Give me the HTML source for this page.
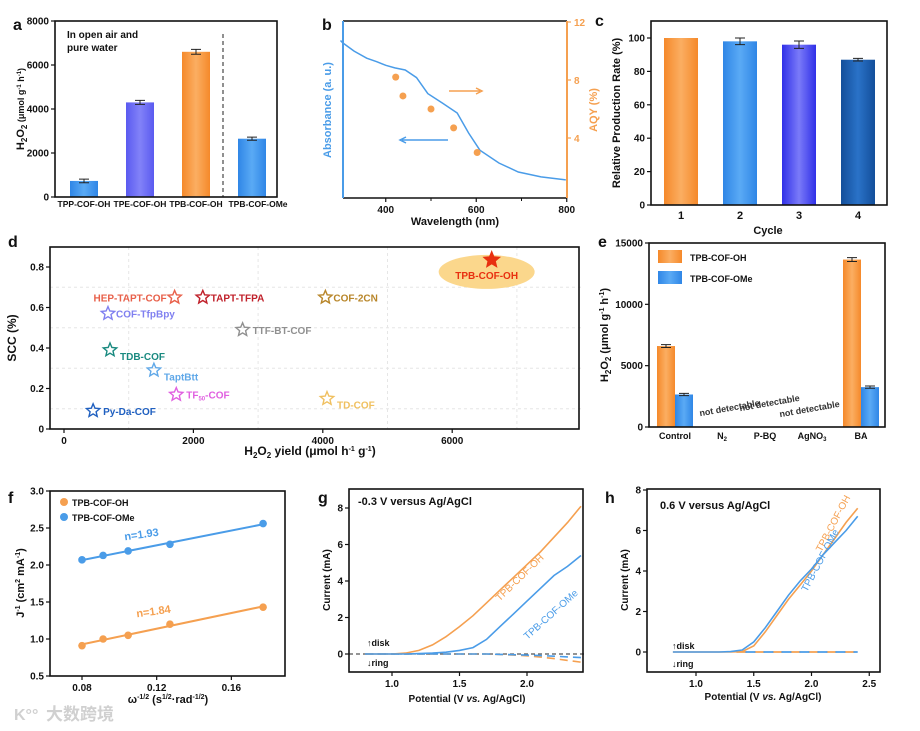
<!DOCTYPE html>
<html><head><meta charset="utf-8"><style>
html,body{margin:0;padding:0;background:#fff}
svg{display:block;font-family:"Liberation Sans","Noto Sans CJK SC",sans-serif;font-weight:bold}
</style></head><body>
<svg id="fig" width="920" height="731" viewBox="0 0 920 731" xmlns="http://www.w3.org/2000/svg">
<defs>
<linearGradient id="gBlue" x1="0" x2="1"><stop offset="0" stop-color="#2f86e6"/><stop offset="0.5" stop-color="#5aaaf5"/><stop offset="1" stop-color="#2f86e6"/></linearGradient>
<linearGradient id="gPurp" x1="0" x2="1"><stop offset="0" stop-color="#5a5af0"/><stop offset="0.5" stop-color="#8282f8"/><stop offset="1" stop-color="#5a5af0"/></linearGradient>
<linearGradient id="gOr" x1="0" x2="1"><stop offset="0" stop-color="#f5892a"/><stop offset="0.5" stop-color="#fbae62"/><stop offset="1" stop-color="#f5892a"/></linearGradient>
<linearGradient id="gPurp2" x1="0" x2="1"><stop offset="0" stop-color="#3030e8"/><stop offset="0.5" stop-color="#7a7af8"/><stop offset="1" stop-color="#3030e8"/></linearGradient>
<linearGradient id="gNavy" x1="0" x2="1"><stop offset="0" stop-color="#134f9a"/><stop offset="0.5" stop-color="#2a72c8"/><stop offset="1" stop-color="#134f9a"/></linearGradient>
</defs>
</svg>
<script>
// ---------- data ----------
const aCats=['TPP-COF-OH','TPE-COF-OH','TPB-COF-OH','TPB-COF-OMe'];
const aVals=[730,4300,6600,2650];
const aErrs=[80,90,110,70];
const aTicks=[0,2000,4000,6000,8000];
const bAbsW=[300,305,330,358,380,400,420,443,468,493,525,558,583,608,650,693,743,798];
const bAbsV=[0.89,0.876,0.83,0.79,0.77,0.75,0.735,0.723,0.68,0.59,0.537,0.48,0.367,0.27,0.198,0.147,0.119,0.102];
const bAqyW=[422,438,500,550,602];
const bAqyV=[8.2,6.9,6.0,4.7,3.0];
const bXTicks=[400,600,800];
const bYTicks=[4,8,12];
const cCats=['1','2','3','4'];
const cVals=[100,98,96,87];
const cErrs=[0,2,2.2,0.8];
const cTicks=[0,20,40,60,80,100];
const dNames=['TPB-COF-OH','HEP-TAPT-COF','TAPT-TFPA','COF-2CN','COF-TfpBpy','TTF-BT-COF','TDB-COF','TaptBtt','TF50-COF','TD-COF','Py-Da-COF'];
const dX=[6610,1710,2145,4040,680,2760,711,1390,1735,4065,450];
const dY=[0.835,0.65,0.65,0.65,0.57,0.49,0.39,0.29,0.17,0.15,0.09];
const dXTicks=[0,2000,4000,6000];
const dYTicks=[0,0.2,0.4,0.6,0.8];
const eCats=['Control','N2','P-BQ','AgNO3','BA'];
const eOH=[6600,0,0,0,13650];
const eOMe=[2650,0,0,0,3250];
const eErrOH=[120,0,0,0,160];
const eErrOMe=[90,0,0,0,90];
const eTicks=[0,5000,10000,15000];
const fX=[0.08,0.0913,0.1047,0.1271,0.177];
const fOH=[0.91,1.0,1.05,1.2,1.43];
const fOMe=[2.07,2.13,2.19,2.28,2.56];
const fXTicks=[0.08,0.12,0.16];
const fYTicks=[0.5,1.0,1.5,2.0,2.5,3.0];
const gV=[0.8,1.0,1.1,1.2,1.3,1.4,1.5,1.6,1.7,1.8,1.9,2.0,2.1,2.2,2.3,2.4];
const gOH=[0,0,0.05,0.2,0.5,0.95,1.5,2.1,2.8,3.5,4.2,4.9,5.6,6.4,7.2,8.1];
const gOMe=[0,0,0,0.02,0.05,0.1,0.2,0.35,0.8,1.5,2.2,2.9,3.6,4.3,4.8,5.4];
const gRingOH=[0,0,0,0,0,0,0,0,0,-0.03,-0.06,-0.1,-0.17,-0.25,-0.35,-0.45];
const gRingOMe=[0,0,0,0,0,0,0,0,0,-0.02,-0.04,-0.06,-0.09,-0.12,-0.16,-0.2];
const gXTicks=[1.0,1.5,2.0];
const gYTicks=[0,2,4,6,8];
const hV=[0.8,1.0,1.2,1.3,1.4,1.5,1.6,1.7,1.8,1.9,2.0,2.1,2.2,2.3,2.4];
const hOH=[0,0,0,0,0.02,0.3,1.0,1.8,2.6,3.3,4.0,4.8,5.6,6.4,7.1];
const hOMe=[0,0,0,0.02,0.1,0.5,1.2,2.0,2.8,3.5,4.1,4.8,5.4,6.0,6.7];
const hXTicks=[1.0,1.5,2.0,2.5];
const hYTicks=[0,2,4,6,8];

const NS='http://www.w3.org/2000/svg';
const svg=document.getElementById('fig');
function mk(tag,attrs,parent){const e=document.createElementNS(NS,tag);for(const k in attrs)e.setAttribute(k,attrs[k]);(parent||svg).appendChild(e);return e;}
function txt(x,y,s,size,anchor,fill,parent){const t=mk('text',{x:x,y:y,'font-size':size,'text-anchor':anchor||'middle',fill:fill||'#111'},parent);t.textContent=s;return t;}
function frame(x1,y1,x2,y2,name){const r=mk('rect',{x:x1,y:y1,width:x2-x1,height:y2-y1,fill:'none',stroke:'#111','stroke-width':1.6});

return r;}
function yTicks(vals,fy,x,name,fmt,color){vals.forEach(v=>{const y=fy(v);mk('line',{x1:x-4,y1:y,x2:x,y2:y,stroke:color||'#111','stroke-width':1.2});const t=txt(x-6,y+3.5,fmt?fmt(v):String(v),10,'end',color);

});}
function xTicks(vals,fx,y,name,fmt,color){vals.forEach(v=>{const x=fx(v);mk('line',{x1:x,y1:y,x2:x,y2:y+4,stroke:color||'#111','stroke-width':1.2});const t=txt(x,y+15,fmt?fmt(v):String(v),10,'middle',color);

});}
function label(x,y,s,name){const t=txt(x,y,s,16,'start');

}
function vtitle(x,y,s,size,name,color){const t=mk('text',{x:0,y:0,'font-size':size,'text-anchor':'middle',fill:color||'#111',transform:`translate(${x},${y}) rotate(-90)`});t.innerHTML=s;

return t;}
function htitle(x,y,s,size,name){const t=mk('text',{x:x,y:y,'font-size':size,'text-anchor':'middle',fill:'#111'});t.innerHTML=s;

return t;}
function pathOf(xs,ys,fx,fy){return xs.map((v,i)=>(i?'L':'M')+fx(v).toFixed(1)+','+fy(ys[i]).toFixed(1)).join('');}

// ---------- panel a ----------
label(13,30,'a','panel-a-label');
const aY=v=>197-v*176/8000, aX=i=>84+i*56;
yTicks(aTicks,aY,55,'a-y-tick');
const aFills=['url(#gBlue)','url(#gPurp)','url(#gOr)','url(#gBlue)'];
aVals.forEach((v,i)=>{const r=mk('rect',{x:aX(i)-14,y:aY(v),width:28,height:aY(0)-aY(v),fill:aFills[i]});


const e1=aY(v+aErrs[i]),e2=aY(v-aErrs[i]);mk('path',{d:`M${aX(i)-5},${e1}H${aX(i)+5}M${aX(i)},${e1}V${e2}M${aX(i)-5},${e2}H${aX(i)+5}`,stroke:'#222','stroke-width':1,fill:'none'});
const t=txt(aX(i)+(i==3?6:0),207,aCats[i],8.5);

});
mk('line',{x1:223,y1:34,x2:223,y2:197,stroke:'#222','stroke-dasharray':'4,3'});
frame(55,21,277,197,'a-plot-frame');
txt(67,38,'In open air and',10,'start');txt(67,51,'pure water',10,'start');
vtitle(24,109,'H<tspan font-size="8" dy="3">2</tspan><tspan dy="-3">O</tspan><tspan font-size="8" dy="3">2</tspan><tspan dy="-3" font-size="9"> (μmol g</tspan><tspan font-size="6" dy="-3">-1</tspan><tspan dy="3" font-size="9"> h</tspan><tspan font-size="6" dy="-3">-1</tspan><tspan dy="3" font-size="9">)</tspan>',11,'a-y-title');

// ---------- panel b ----------
label(322,30,'b','panel-b-label');
const bX=w=>340.5+(w-300)*0.4525, bYa=v=>198-v*177, bYq=v=>196-v*14.5;
xTicks(bXTicks,bX,198,'b-x-tick');
[500,700].forEach(w=>mk('line',{x1:bX(w),y1:198,x2:bX(w),y2:201,stroke:'#111'}));
const bl=mk('path',{d:pathOf(bAbsW,bAbsV,bX,bYa),fill:'none',stroke:'#4a9ce8','stroke-width':1.5});


bAqyW.forEach((w,i)=>{const c=mk('circle',{cx:bX(w),cy:bYq(bAqyV[i]),r:3.5,fill:'#f5a050'});

});
mk('line',{x1:343,y1:198,x2:567,y2:198,stroke:'#111','stroke-width':1.6});
mk('line',{x1:343,y1:21,x2:567,y2:21,stroke:'#111','stroke-width':1.6});
mk('line',{x1:343,y1:21,x2:343,y2:198,stroke:'#4a9ce8','stroke-width':2});
mk('line',{x1:567,y1:21,x2:567,y2:198,stroke:'#f5a050','stroke-width':2});
bYTicks.forEach(v=>{const y=bYq(v);mk('line',{x1:567,y1:y,x2:571,y2:y,stroke:'#f5a050','stroke-width':1.2});const t=txt(574,y+4,String(v),10,'start','#f5a050');

});
mk('path',{d:'M449,91H480M476,88L482,91L476,94',stroke:'#f5a050','stroke-width':1.5,fill:'none'});
mk('path',{d:'M448,140H402M406,137L400,140L406,143',stroke:'#4a9ce8','stroke-width':1.5,fill:'none'});
vtitle(331,110,'Absorbance (a. u.)',11,'b-y-title','#4a9ce8');
vtitle(597,110,'AQY (%)',11,'b-aqy-title','#f5a050');
htitle(455,225,'Wavelength (nm)',11,'b-x-title');

// ---------- panel c ----------
label(595,26,'c','panel-c-label');
const cY=v=>205-v*1.67, cX=i=>681+i*59;
yTicks(cTicks,cY,651,'c-y-tick');
const cFills=['url(#gOr)','url(#gBlue)','url(#gPurp2)','url(#gNavy)'];
cVals.forEach((v,i)=>{const r=mk('rect',{x:cX(i)-17,y:cY(v),width:34,height:cY(0)-cY(v),fill:cFills[i]});


if(cErrs[i]){const e1=cY(v+cErrs[i]),e2=cY(v-cErrs[i]);mk('path',{d:`M${cX(i)-5},${e1}H${cX(i)+5}M${cX(i)},${e1}V${e2}M${cX(i)-5},${e2}H${cX(i)+5}`,stroke:'#222','stroke-width':1,fill:'none'});}
const t=txt(cX(i),219,cCats[i],11);

});
frame(651,21,887,205,'c-plot-frame');
vtitle(620,113,'Relative Production Rate (%)',11,'c-y-title');
htitle(768,234,'Cycle',11,'c-x-title');

// ---------- panel d ----------
label(8,247,'d','panel-d-label');
const dXf=v=>64+v*0.0647, dYf=v=>429-v*202.5;
[1000,3000,5000,7000].forEach(v=>mk('line',{x1:dXf(v),y1:247,x2:dXf(v),y2:429,stroke:'#e6e6e6','stroke-dasharray':'3,3'}));
[0.1,0.3,0.5,0.7].forEach(v=>mk('line',{x1:50,y1:dYf(v),x2:581,y2:dYf(v),stroke:'#e6e6e6','stroke-dasharray':'3,3'}));
yTicks(dYTicks,dYf,50,'d-y-tick',v=>v===0?'0':v.toFixed(1));
xTicks(dXTicks,dXf,429,'d-x-tick');
mk('ellipse',{cx:dXf(6610)-5,cy:dYf(0.835)+12,rx:48,ry:17,fill:'#fbd78c'});
const dColors=['#e83010','#e8604a','#c0202a','#b8862a','#8080f0','#909090','#1a8a80','#60a8e8','#e060e0','#f0c060','#2060c0'];
const dLx=[0,-8,8,8,8,10,10,10,10,10,10], dLy=[12,4,4,4,4,4,10,10,4,10,4];
function star(cx,cy,r){let p='';for(let k=0;k<10;k++){const a=-Math.PI/2+k*Math.PI/5,rr=k%2?r*0.45:r;p+=(k?'L':'M')+(cx+rr*Math.cos(a)).toFixed(1)+','+(cy+rr*Math.sin(a)).toFixed(1);}return p+'Z';}
dNames.forEach((n,i)=>{const cx=dXf(dX[i]),cy=dYf(dY[i]);
const s=mk('path',{d:star(cx,cy,i?7:8),fill:i?'none':dColors[i],stroke:dColors[i],'stroke-width':1.4});


let t;
if(i===0){t=txt(cx-5,cy+19,n,10,'middle',dColors[i]);}
else if(i===1){t=txt(cx+dLx[i],cy+dLy[i],n,10,'end',dColors[i]);}
else if(n==='TF50-COF'){t=mk('text',{x:cx+dLx[i],y:cy+dLy[i],'font-size':10,fill:dColors[i]});t.innerHTML='TF<tspan font-size="6" dy="2">50</tspan><tspan dy="-2">-COF</tspan>';}
else{t=txt(cx+dLx[i],cy+dLy[i],n,10,'start',dColors[i]);}

});
frame(50,247,579,429,'d-plot-frame');
vtitle(16,338,'SCC (%)',12,'d-y-title');
htitle(310,455,'H<tspan font-size="8" dy="3">2</tspan><tspan dy="-3">O</tspan><tspan font-size="8" dy="3">2</tspan><tspan dy="-3"> yield (μmol h</tspan><tspan font-size="7" dy="-4">-1</tspan><tspan dy="4"> g</tspan><tspan font-size="7" dy="-4">-1</tspan><tspan dy="4">)</tspan>',12,'d-x-title');

// ---------- panel e ----------
label(598,247,'e','panel-e-label');
const eY=v=>427-v*184/15000, eX=i=>[675,722,765,812,861][i];
yTicks(eTicks,eY,649,'e-y-tick');
eCats.forEach((c,i)=>{[[eOH,eErrOH,'url(#gOr)',-9,'oh'],[eOMe,eErrOMe,'url(#gBlue)',9,'ome']].forEach(([vals,errs,fill,off,sn])=>{const v=vals[i];if(!v)return;const cx=eX(i)+off;
const r=mk('rect',{x:cx-9,y:eY(v),width:18,height:eY(0)-eY(v),fill:fill});


const e1=eY(v+errs[i]),e2=eY(v-errs[i]);mk('path',{d:`M${cx-5},${e1}H${cx+5}M${cx},${e1}V${e2}M${cx-5},${e2}H${cx+5}`,stroke:'#222','stroke-width':1,fill:'none'});});});
const eLab=['Control','N<tspan font-size="6" dy="2">2</tspan>','P-BQ','AgNO<tspan font-size="6" dy="2">3</tspan>','BA'];
eLab.forEach((s,i)=>{const t=htitle(eX(i),439,s,9,'e-x-label');t.setAttribute('font-size','9');});
[[730,411],[770,406],[810,412]].forEach(([x,y])=>{const t=mk('text',{x:0,y:0,'font-size':9,'text-anchor':'middle',fill:'#333',transform:`translate(${x},${y}) rotate(-10)`});t.textContent='not detectable';

});
mk('rect',{x:658,y:250,width:24,height:13,fill:'url(#gOr)'});txt(690,261,'TPB-COF-OH',9,'start');
mk('rect',{x:658,y:271,width:24,height:13,fill:'url(#gBlue)'});txt(690,282,'TPB-COF-OMe',9,'start');
frame(649,243,885,427,'e-plot-frame');
vtitle(608,335,'H<tspan font-size="8" dy="3">2</tspan><tspan dy="-3">O</tspan><tspan font-size="8" dy="3">2</tspan><tspan dy="-3"> (μmol g</tspan><tspan font-size="7" dy="-4">-1</tspan><tspan dy="4"> h</tspan><tspan font-size="7" dy="-4">-1</tspan><tspan dy="4">)</tspan>',11,'e-y-title');

// ---------- panel f ----------
label(8,503,'f','panel-f-label');
const fXf=v=>82+(v-0.08)*1867, fYf=v=>676-(v-0.5)*74;
yTicks(fYTicks,fYf,50,'f-y-tick',v=>v.toFixed(1));
xTicks(fXTicks,fXf,676,'f-x-tick',v=>v.toFixed(2));
function fit(xs,ys){const n=xs.length,mx=xs.reduce((a,b)=>a+b)/n,my=ys.reduce((a,b)=>a+b)/n;let sxy=0,sxx=0;xs.forEach((x,i)=>{sxy+=(x-mx)*(ys[i]-my);sxx+=(x-mx)*(x-mx);});const k=sxy/sxx;return x=>my+k*(x-mx);}
[[fOH,'#f5a050','oh'],[fOMe,'#4a9ce8','ome']].forEach(([ys,col,sn])=>{const f=fit(fX,ys);const x0=fX[0],x1=fX[fX.length-1];
const l=mk('line',{x1:fXf(x0),y1:fYf(f(x0)),x2:fXf(x1),y2:fYf(f(x1)),stroke:col,'stroke-width':2});


fX.forEach((x,i)=>{const c=mk('circle',{cx:fXf(x),cy:fYf(ys[i]),r:3.8,fill:col});

});});
mk('text',{x:0,y:0,'font-size':11,fill:'#4a9ce8',transform:'translate(142,538) rotate(-8)','text-anchor':'middle'}).textContent='n=1.93';
mk('text',{x:0,y:0,'font-size':11,fill:'#f5a050',transform:'translate(154,615) rotate(-8)','text-anchor':'middle'}).textContent='n=1.84';
mk('circle',{cx:64,cy:502,r:4,fill:'#f5a050'});txt(72,506,'TPB-COF-OH',9,'start');
mk('circle',{cx:64,cy:517,r:4,fill:'#4a9ce8'});txt(72,521,'TPB-COF-OMe',9,'start');
frame(50,491,285,676,'f-plot-frame');
vtitle(24,583,'J<tspan font-size="7" dy="-4">-1</tspan><tspan dy="4"> (cm</tspan><tspan font-size="7" dy="-4">2</tspan><tspan dy="4"> mA</tspan><tspan font-size="7" dy="-4">-1</tspan><tspan dy="4">)</tspan>',11,'f-y-title');
htitle(168,703,'ω<tspan font-size="7" dy="-4">-1/2</tspan><tspan dy="4"> (s</tspan><tspan font-size="7" dy="-4">1/2</tspan><tspan dy="4">·rad</tspan><tspan font-size="7" dy="-4">-1/2</tspan><tspan dy="4">)</tspan>',11,'f-x-title');
txt(14,720,'K°°',16,'start','#d0d0d0');txt(46,720,'大数跨境',17,'start','#d0d0d0');

// ---------- panel g ----------
label(318,503,'g','panel-g-label');
const gX=v=>392+(v-1)*135, gY=v=>654-v*18.25;
yTicks(gYTicks,gY,349,'g-y-tick');
xTicks(gXTicks,gX,672,'g-x-tick',v=>v.toFixed(1));
const gclip=mk('clipPath',{id:'gc'});mk('rect',{x:349,y:489,width:236,height:183},gclip);
const gg=mk('g',{'clip-path':'url(#gc)'});
mk('line',{x1:349,y1:gY(0),x2:585,y2:gY(0),stroke:'#555','stroke-dasharray':'4,3','stroke-width':1.2},gg);
[[gRingOH,'#f5a050','oh'],[gRingOMe,'#4a9ce8','ome']].forEach(([ys,col,sn])=>{const p=mk('path',{d:pathOf(gV,ys,gX,gY),fill:'none',stroke:col,'stroke-width':1.6,'stroke-dasharray':'8,5'},gg);

});
[[gOH,'#f5a050','oh'],[gOMe,'#4a9ce8','ome']].forEach(([ys,col,sn])=>{const p=mk('path',{d:pathOf(gV,ys,gX,gY),fill:'none',stroke:col,'stroke-width':1.6},gg);

});
frame(349,489,583,672,'g-plot-frame');
txt(358,505,'-0.3 V versus Ag/AgCl',11,'start');
mk('text',{x:0,y:0,'font-size':10,fill:'#f5a050','font-weight':'normal',transform:'translate(522,580) rotate(-44)','text-anchor':'middle'}).textContent='TPB-COF-OH';
mk('text',{x:0,y:0,'font-size':10,fill:'#4a9ce8','font-weight':'normal',transform:'translate(553,617) rotate(-42)','text-anchor':'middle'}).textContent='TPB-COF-OMe';
txt(367,646,'↑disk',9,'start');txt(367,666,'↓ring',9,'start');
vtitle(330,580,'Current (mA)',10,'g-y-title');
htitle(467,702,'Potential (V <tspan font-style="italic">vs.</tspan> Ag/AgCl)',10,'g-x-title');

// ---------- panel h ----------
label(605,503,'h','panel-h-label');
const hX=v=>696+(v-1)*115.5, hY=v=>652-v*20.25;
yTicks(hYTicks,hY,647,'h-y-tick');
xTicks(hXTicks,hX,672,'h-x-tick',v=>v.toFixed(1));
const hr1=mk('line',{x1:hX(1.35),y1:hY(0),x2:hX(2.4),y2:hY(0),stroke:'#f5a050','stroke-width':1.8,'stroke-dasharray':'10,8'});


const hr2=mk('line',{x1:hX(1.35)+9,y1:hY(0),x2:hX(2.4),y2:hY(0),stroke:'#4a9ce8','stroke-width':1.8,'stroke-dasharray':'10,8'});


[[hOH,'#f5a050','oh'],[hOMe,'#4a9ce8','ome']].forEach(([ys,col,sn])=>{const p=mk('path',{d:pathOf(hV,ys,hX,hY),fill:'none',stroke:col,'stroke-width':1.6});

});
frame(647,489,880,672,'h-plot-frame');
txt(660,509,'0.6 V versus Ag/AgCl',11,'start');
mk('text',{x:0,y:0,'font-size':10,fill:'#f5a050','font-weight':'normal',transform:'translate(836,525) rotate(-62)','text-anchor':'middle'}).textContent='TPB-COF-OH';
mk('text',{x:0,y:0,'font-size':10,fill:'#4a9ce8','font-weight':'normal',transform:'translate(823,562) rotate(-62)','text-anchor':'middle'}).textContent='TPB-COF-OMe';
txt(672,649,'↑disk',9,'start');txt(672,667,'↓ring',9,'start');
vtitle(628,580,'Current (mA)',10,'h-y-title');
htitle(763,700,'Potential (V <tspan font-style="italic">vs.</tspan> Ag/AgCl)',10,'h-x-title');
</script>
</body></html>
